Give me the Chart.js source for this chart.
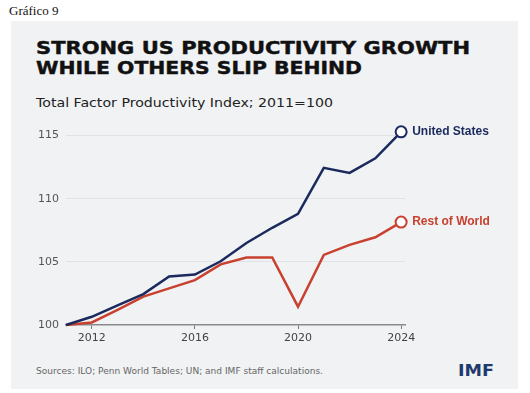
<!DOCTYPE html>
<html>
<head>
<meta charset="utf-8">
<script src="https://cdn.jsdelivr.net/npm/chart.js@4"></script>
<style>
  html, body { margin: 0; padding: 0; background: #fff; }
  body { width: 530px; height: 393px; position: relative; overflow: hidden; }
  .panel { position: absolute; left: 11px; top: 21px; width: 507px; height: 368px; background: #f1f2f4; }
  .txt { position: absolute; white-space: nowrap; transform-origin: 0 0; }
  #fig { left: 9px; top: 3px; font: 13px "Liberation Serif", serif; color: #111; }
  .title { left: 36px; font: bold 17px "DejaVu Sans", sans-serif; color: #111; line-height: 20px; -webkit-text-stroke: 0.4px #111; }
  #t1 { top: 38px; }
  #t2 { top: 58px; }
  #sub { left: 36px; top: 96px; font: 12px "DejaVu Sans", sans-serif; color: #222; }
  #src { left: 36px; top: 367px; font: 8px "DejaVu Sans", sans-serif; color: #666; }
  #imf { left: 458px; top: 362px; font: bold 15px "DejaVu Sans", sans-serif; color: #1f3b6e; }
  canvas { position: absolute; left: 0; top: 0; }
</style>
</head>
<body>
<div class="panel"></div>
<div class="txt" id="fig">Gráfico 9</div>
<div class="txt title" id="t1" data-w="434">STRONG US PRODUCTIVITY GROWTH</div>
<div class="txt title" id="t2" data-w="326">WHILE OTHERS SLIP BEHIND</div>
<div class="txt" id="sub" data-w="297">Total Factor Productivity Index; 2011=100</div>
<div class="txt" id="src" data-w="287">Sources: ILO; Penn World Tables; UN; and IMF staff calculations.</div>
<div class="txt" id="imf" data-w="36">IMF</div>
<canvas id="chart" width="530" height="393"></canvas>
<script>
const years = [2011, 2012, 2013, 2014, 2015, 2016, 2017, 2018, 2019, 2020, 2021, 2022, 2023, 2024];
const usValues = [100, 100.65, 101.55, 102.45, 103.85, 104.0, 105.05, 106.5, 107.7, 108.8, 112.45, 112.05, 113.2, 115.3];
const rowValues = [100, 100.2, 101.2, 102.25, 102.9, 103.55, 104.8, 105.35, 105.35, 101.45, 105.55, 106.35, 106.95, 108.15];
const yTicks = [100, 105, 110, 115];
const xTicks = [2012, 2016, 2020, 2024];
const seriesNames = ['United States', 'Rest of World'];

const navy = '#1b2a5e';
const red = '#c8412f';

// stretch the html texts to the widths seen in the picture
document.querySelectorAll('.txt[data-w]').forEach(el => {
    const w = el.getBoundingClientRect().width;
    el.style.transform = `scaleX(${el.dataset.w / w})`;
});

const endLabels = {
    id: 'endLabels',
    afterDatasetsDraw(chart) {
        const ctx = chart.ctx;
        chart.data.datasets.forEach((ds, i) => {
            const pts = chart.getDatasetMeta(i).data;
            const p = pts[pts.length - 1];
            ctx.save();
            ctx.font = 'bold 12px "Liberation Sans", Arial, sans-serif';
            ctx.fillStyle = ds.borderColor;
            ctx.textBaseline = 'middle';
            ctx.fillText(ds.label, p.x + 11, p.y);
            ctx.restore();
        });
    }
};

const lastOnly = (r) => (ctx) => ctx.dataIndex === years.length - 1 ? r : 0;

new Chart(document.getElementById('chart'), {
    type: 'line',
    data: {
        datasets: [
            { label: seriesNames[0], data: years.map((x, i) => ({ x, y: usValues[i] })), borderColor: navy },
            { label: seriesNames[1], data: years.map((x, i) => ({ x, y: rowValues[i] })), borderColor: red }
        ].map(d => Object.assign(d, {
            borderWidth: 2.5,
            tension: 0,
            clip: false,
            pointRadius: lastOnly(5.5),
            pointHoverRadius: lastOnly(5.5),
            pointBackgroundColor: '#ffffff',
            pointBorderColor: d.borderColor,
            pointBorderWidth: 2
        }))
    },
    options: {
        responsive: false,
        animation: false,
        events: [],
        layout: { padding: { left: 26, right: 125, top: 123, bottom: 38 } },
        plugins: { legend: { display: false }, tooltip: { enabled: false } },
        scales: {
            x: {
                type: 'linear',
                min: 2011,
                max: 2024.15,
                afterBuildTicks: (s) => { s.ticks = xTicks.map(v => ({ value: v })); },
                afterFit: (s) => { s.height = 30; },
                ticks: { color: '#444', font: { family: 'DejaVu Sans', size: 11 }, padding: 3, maxRotation: 0, callback: v => String(v) },
                grid: { drawOnChartArea: false, drawTicks: true, tickLength: 4, color: '#777' },
                border: { display: true, color: '#8a8a8a', width: 1.5 }
            },
            y: {
                min: 100,
                max: 116,
                afterBuildTicks: (s) => { s.ticks = yTicks.map(v => ({ value: v })); },
                afterFit: (s) => { s.width = 40; },
                ticks: { color: '#555', font: { family: 'DejaVu Sans', size: 11 }, padding: 7 },
                grid: { drawTicks: false, color: (c) => c.tick && c.tick.value === 100 ? 'rgba(0,0,0,0)' : '#e1e2e5', lineWidth: 1 },
                border: { display: false }
            }
        }
    },
    plugins: [endLabels]
});
</script>
</body>
</html>
